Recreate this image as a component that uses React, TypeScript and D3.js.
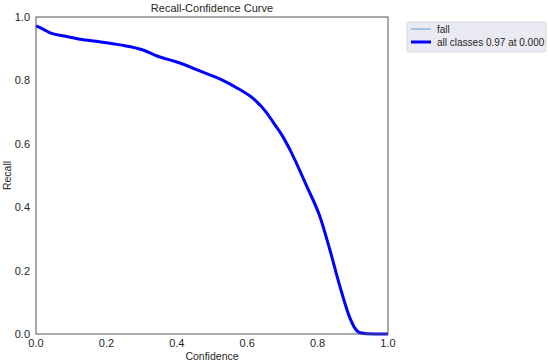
import * as d3 from "d3";
import React from "react";

// curve (confidence, recall)
const confidence = [0, 0.02, 0.04, 0.08, 0.125, 0.18, 0.239, 0.304, 0.344, 0.4, 0.474, 0.531, 0.571, 0.62, 0.656, 0.673, 0.7, 0.722, 0.77, 0.807, 0.835, 0.864, 0.892, 0.905, 0.92, 0.94, 1.0];
const recall = [0.972, 0.962, 0.95, 0.94, 0.93, 0.922, 0.912, 0.896, 0.877, 0.858, 0.826, 0.8, 0.776, 0.74, 0.697, 0.669, 0.625, 0.58, 0.464, 0.369, 0.265, 0.148, 0.05, 0.02, 0.004, 0.001, 0.0];
const ticks = [0, 0.2, 0.4, 0.6, 0.8, 1.0];
const legendLabels = ["fall", "all classes 0.97 at 0.000"];

export default function App() {
  const ref = React.useRef<SVGSVGElement>(null);

  React.useEffect(() => {
    const svg = d3.select(ref.current);
    svg.selectAll("*").remove();
    const W = 550, H = 364;
    const margin = { left: 36, right: 162, top: 17, bottom: 30 };
    const x = d3.scaleLinear().domain([0, 1]).range([margin.left, W - margin.right]);
    const y = d3.scaleLinear().domain([0, 1]).range([H - margin.bottom, margin.top]);
    const font = "Liberation Sans, Arial, sans-serif";

    svg.append("rect").attr("width", W).attr("height", H).attr("fill", "#fff");

    const data = confidence.map((c, i) => ({ c, r: recall[i] }));
    const line = d3.line<{ c: number; r: number }>()
      .x((d) => x(d.c))
      .y((d) => y(d.r))
      .curve(d3.curveMonotoneX);

    // fall (thin) and all classes (thick)
    svg.append("path").datum(data).attr("d", line).attr("fill", "none")
      .attr("stroke", "#5b9bd5").attr("stroke-width", 1);
    svg.append("path").datum(data).attr("d", line).attr("fill", "none")
      .attr("stroke", "#0000ff").attr("stroke-width", 3);

    // frame
    svg.append("rect")
      .attr("x", x(0)).attr("y", y(1))
      .attr("width", x(1) - x(0)).attr("height", y(0) - y(1))
      .attr("fill", "none").attr("stroke", "#555").attr("stroke-width", 1);

    // tick labels
    svg.append("g").selectAll("text").data(ticks).enter().append("text")
      .attr("x", (d) => x(d)).attr("y", y(0) + 13)
      .attr("text-anchor", "middle").attr("font-family", font).attr("font-size", 11)
      .attr("fill", "#262626").text((d) => d.toFixed(1));
    svg.append("g").selectAll("text").data(ticks).enter().append("text")
      .attr("x", x(0) - 6).attr("y", (d) => y(d) + 4)
      .attr("text-anchor", "end").attr("font-family", font).attr("font-size", 11)
      .attr("fill", "#262626").text((d) => d.toFixed(1));

    // title and axis labels
    svg.append("text").attr("x", (x(0) + x(1)) / 2).attr("y", 12)
      .attr("text-anchor", "middle").attr("font-family", font).attr("font-size", 11)
      .attr("fill", "#262626").text("Recall-Confidence Curve");
    svg.append("text").attr("x", (x(0) + x(1)) / 2).attr("y", 360)
      .attr("text-anchor", "middle").attr("font-family", font).attr("font-size", 10.5)
      .attr("fill", "#262626").text("Confidence");
    svg.append("text")
      .attr("transform", `translate(11, ${(y(0) + y(1)) / 2}) rotate(-90)`)
      .attr("text-anchor", "middle").attr("font-family", font).attr("font-size", 10.5)
      .attr("fill", "#262626").text("Recall");

    // legend
    const lg = svg.append("g").attr("transform", "translate(407, 22)");
    lg.append("rect").attr("width", 139).attr("height", 30).attr("rx", 2)
      .attr("fill", "#eaeaf2").attr("stroke", "#d0d0d8").attr("stroke-width", 0.8);
    const colours = ["#5b9bd5", "#0000ff"];
    const widths = [1, 3];
    legendLabels.forEach((lab, i) => {
      const yy = 7 + i * 13;
      lg.append("line").attr("x1", 4).attr("x2", 24).attr("y1", yy).attr("y2", yy)
        .attr("stroke", colours[i]).attr("stroke-width", widths[i]);
      lg.append("text").attr("x", 30).attr("y", yy + 3.5)
        .attr("font-family", font).attr("font-size", 10).attr("fill", "#262626").text(lab);
    });
  }, []);

  return (
    <svg ref={ref} width={550} height={364}
      style={{ position: "absolute", left: 0, top: 0, display: "block" }} />
  );
}
